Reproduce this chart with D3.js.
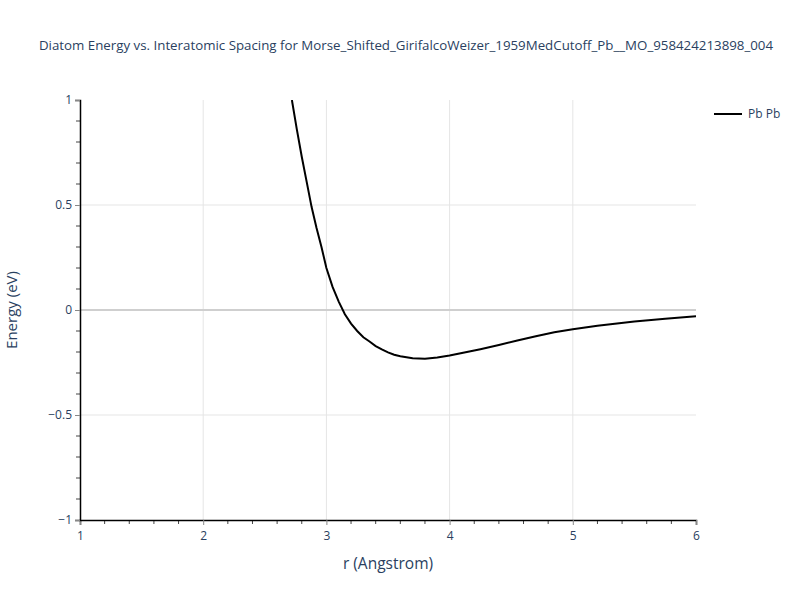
<!DOCTYPE html>
<html>
<head>
<meta charset="utf-8">
<script src="https://cdn.jsdelivr.net/npm/d3@7/dist/d3.min.js"></script>
<style>
  body { margin: 0; background: #fff; }
  svg text { font-family: "Open Sans", Verdana, sans-serif; fill: #2a3f5f; }
</style>
</head>
<body>
<svg id="chart" width="800" height="600"></svg>
<script>
/* Diatom energy curve, Pb-Pb */

const title = "Diatom Energy vs. Interatomic Spacing for Morse_Shifted_GirifalcoWeizer_1959MedCutoff_Pb__MO_958424213898_004";
const seriesName = "Pb Pb";

const rValues = [2.72, 2.76, 2.80, 2.84, 2.88, 2.92, 2.96, 3.00, 3.05, 3.10, 3.15, 3.20, 3.25,
  3.30, 3.35, 3.40, 3.45, 3.50, 3.55, 3.60, 3.70, 3.80, 3.90, 4.00, 4.10, 4.25, 4.40, 4.55,
  4.70, 4.85, 5.00, 5.20, 5.50, 5.75, 6.00];
const energyValues = [1.00, 0.86, 0.73, 0.61, 0.49, 0.39, 0.30, 0.20, 0.11, 0.04, -0.02, -0.065, -0.10,
  -0.13, -0.15, -0.172, -0.188, -0.202, -0.213, -0.22, -0.23, -0.232, -0.226, -0.217, -0.205, -0.187, -0.167, -0.145,
  -0.125, -0.106, -0.092, -0.075, -0.055, -0.042, -0.030];

const xTicks = [1, 2, 3, 4, 5, 6];
const yTicks = [-1, -0.5, 0, 0.5, 1];

const margin = { left: 80, top: 100, right: 104, bottom: 80 };
const width = 800, height = 600;
const plotW = width - margin.left - margin.right;
const plotH = height - margin.top - margin.bottom;

const svg = d3.select("#chart");
const x = d3.scaleLinear().domain([1, 6]).range([margin.left, margin.left + plotW]);
const y = d3.scaleLinear().domain([-1, 1]).range([margin.top + plotH, margin.top]);

// grid
svg.append("g").selectAll("line")
  .data(xTicks.filter((d) => d > 1 && d < 6))
  .join("line")
  .attr("x1", (d) => x(d)).attr("x2", (d) => x(d))
  .attr("y1", margin.top).attr("y2", margin.top + plotH)
  .attr("stroke", "#e5e5e5").attr("stroke-width", 1);

svg.append("g").selectAll("line")
  .data(yTicks.filter((d) => d !== 0 && d > -1 && d < 1))
  .join("line")
  .attr("x1", margin.left).attr("x2", margin.left + plotW)
  .attr("y1", (d) => y(d)).attr("y2", (d) => y(d))
  .attr("stroke", "#e5e5e5").attr("stroke-width", 1);

svg.append("line")
  .attr("x1", margin.left).attr("x2", margin.left + plotW)
  .attr("y1", y(0)).attr("y2", y(0))
  .attr("stroke", "#cfcfcf").attr("stroke-width", 2);

// curve
const clipId = "plot-clip";
svg.append("clipPath").attr("id", clipId)
  .append("rect").attr("x", margin.left).attr("y", margin.top)
  .attr("width", plotW).attr("height", plotH);

const line = d3.line()
  .x((d, i) => x(rValues[i]))
  .y((d) => y(d));

svg.append("path")
  .datum(energyValues)
  .attr("clip-path", `url(#${clipId})`)
  .attr("d", line)
  .attr("fill", "none")
  .attr("stroke", "#000")
  .attr("stroke-width", 2);

// x axis
const xMinor = d3.range(1.2, 6, 0.2).filter((v) => Math.abs(v - Math.round(v)) > 0.01);
svg.append("g").selectAll("line")
  .data(xMinor).join("line")
  .attr("x1", (d) => x(d)).attr("x2", (d) => x(d))
  .attr("y1", margin.top + plotH).attr("y2", margin.top + plotH + 4)
  .attr("stroke", "#444").attr("stroke-width", 1);

const xAxis = d3.axisBottom(x).tickValues(xTicks).tickSize(5).tickPadding(6).tickFormat(d3.format("d"));
const gx = svg.append("g").attr("transform", `translate(0,${margin.top + plotH})`).call(xAxis);
gx.select(".domain").attr("stroke", "#000").attr("stroke-width", 1.5);
gx.selectAll(".tick line").attr("stroke", "#888");
gx.selectAll(".tick text").attr("font-size", 12).attr("fill", "#2a3f5f");

// y axis
const yMinor = d3.range(-0.9, 1, 0.1).filter((v) => Math.abs(v * 2 - Math.round(v * 2)) > 0.01);
svg.append("g").selectAll("line")
  .data(yMinor).join("line")
  .attr("x1", margin.left - 4).attr("x2", margin.left)
  .attr("y1", (d) => y(d)).attr("y2", (d) => y(d))
  .attr("stroke", "#444").attr("stroke-width", 1);

const yAxis = d3.axisLeft(y).tickValues(yTicks).tickSize(5).tickPadding(3)
  .tickFormat((d) => (d < 0 ? "\u2212" + Math.abs(d) : String(d)));
const gy = svg.append("g").attr("transform", `translate(${margin.left},0)`).call(yAxis);
gy.select(".domain").attr("stroke", "#000").attr("stroke-width", 1.5);
gy.selectAll(".tick line").attr("stroke", "#888");
gy.selectAll(".tick text").attr("font-size", 12).attr("fill", "#2a3f5f");

// titles
svg.append("text")
  .attr("x", 406).attr("y", 50)
  .attr("text-anchor", "middle").attr("font-size", 13.3)
  .text(title);

svg.append("text")
  .attr("x", margin.left + plotW / 2).attr("y", 569)
  .attr("text-anchor", "middle").attr("font-size", 15.5)
  .text("r (Angstrom)");

svg.append("text")
  .attr("transform", `translate(17,${margin.top + plotH / 2}) rotate(-90)`)
  .attr("text-anchor", "middle").attr("font-size", 15)
  .text("Energy (eV)");

// legend
const legend = svg.append("g").attr("transform", "translate(714,114)");
legend.append("line").attr("x1", 0).attr("x2", 28).attr("y1", 0).attr("y2", 0)
  .attr("stroke", "#000").attr("stroke-width", 2);
legend.append("text").attr("x", 34).attr("y", 4).attr("font-size", 12).text(seriesName);
</script>
</body>
</html>
